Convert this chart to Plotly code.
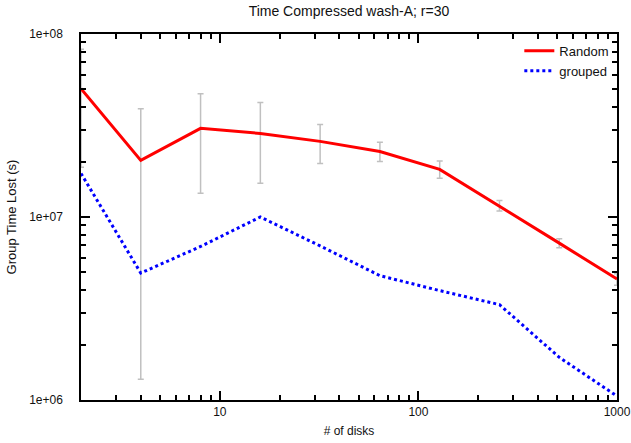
import plotly.graph_objects as go

disks = [2, 4, 8, 16, 32, 64, 128, 256, 512, 1000]
random_vals = [5.02e7, 2.04e7, 3.05e7, 2.86e7, 2.59e7, 2.28e7, 1.82e7, 1.15e7, 7.2e6, 4.58e6]
random_hi = [8.25e7, 3.91e7, 4.72e7, 4.22e7, 3.2e7, 2.56e7, 2.02e7, 1.23e7, 7.6e6, 4.9e6]
random_lo = [1.87e7, 1.30e6, 1.35e7, 1.53e7, 1.96e7, 2.01e7, 1.63e7, 1.08e7, 6.8e6, 4.24e6]
grouped_vals = [1.73e7, 4.94e6, 6.9e6, 1.0e7, 6.95e6, 4.78e6, 3.96e6, 3.32e6, 1.71e6, 1.05e6]

x_major = [10, 100, 1000]
x_major_text = ["10", "100", "1000"]
y_major = [1e6, 1e7, 1e8]
y_major_text = ["1e+06", "1e+07", "1e+08"]

x_all = [m * 10 ** e for e in range(0, 3) for m in range(1, 10) if m * 10 ** e >= 2] + [1000]
y_all = [m * 10 ** e for e in range(6, 8) for m in range(1, 10)] + [1e8]
x_all_text = [x_major_text[x_major.index(v)] if v in x_major else "" for v in x_all]
y_all_text = [y_major_text[y_major.index(v)] if v in y_major else "" for v in y_all]

err_plus = [h - v for h, v in zip(random_hi, random_vals)]
err_minus = [v - l for v, l in zip(random_vals, random_lo)]

FONT = "Liberation Sans, Arial, sans-serif"

fig = go.Figure()
fig.add_trace(go.Scatter(
    x=disks, y=random_vals, mode="lines", name="Random",
    line=dict(color="#ff0000", width=3),
    error_y=dict(type="data", symmetric=False, array=err_plus, arrayminus=err_minus,
                 color="#c0c0c0", thickness=1.5, width=3),
))
fig.add_trace(go.Scatter(
    x=disks, y=grouped_vals, mode="lines", name="grouped",
    line=dict(color="#0000ff", width=3, dash="dot"),
))

base = dict(
    type="log", showgrid=False, zeroline=False, automargin=False,
    showline=True, linecolor="black", linewidth=1.5, mirror="ticks",
    ticks="inside", ticklen=5, tickcolor="black", tickwidth=1.5,
    tickfont=dict(family=FONT, size=12, color="#111"),
)

fig.update_xaxes(
    **base, range=[0.30103, 3],
    tickmode="array", tickvals=x_all, ticktext=x_all_text,
    minor=dict(tickmode="array", tickvals=x_major, ticks="inside", ticklen=9,
               tickcolor="black", tickwidth=1.5, showgrid=False),
    title=dict(text="# of disks", standoff=8, font=dict(family=FONT, size=12, color="#111")),
)
fig.update_yaxes(
    **base, range=[6, 8],
    tickmode="array", tickvals=y_all, ticktext=y_all_text,
    ticklabelstandoff=14,
    minor=dict(tickmode="array", tickvals=y_major, ticks="inside", ticklen=9,
               tickcolor="black", tickwidth=1.5, showgrid=False),
    title=dict(text="Group Time Lost (s)", standoff=10, font=dict(family=FONT, size=13, color="#111")),
)

fig.update_layout(
    width=631, height=443,
    margin=dict(l=81, r=14, t=34, b=43),
    paper_bgcolor="white", plot_bgcolor="white",
    title=dict(text="Time Compressed wash-A; r=30", x=0.553, xanchor="center",
               y=0.985, yanchor="top",
               font=dict(family=FONT, size=14, color="#111")),
    showlegend=True,
    legend=dict(x=0.995, y=0.995, xanchor="right", yanchor="top",
                bgcolor="rgba(0,0,0,0)", borderwidth=0, tracegroupgap=0,
                font=dict(family=FONT, size=13, color="#111")),
)

fig.write_html("out.html")
